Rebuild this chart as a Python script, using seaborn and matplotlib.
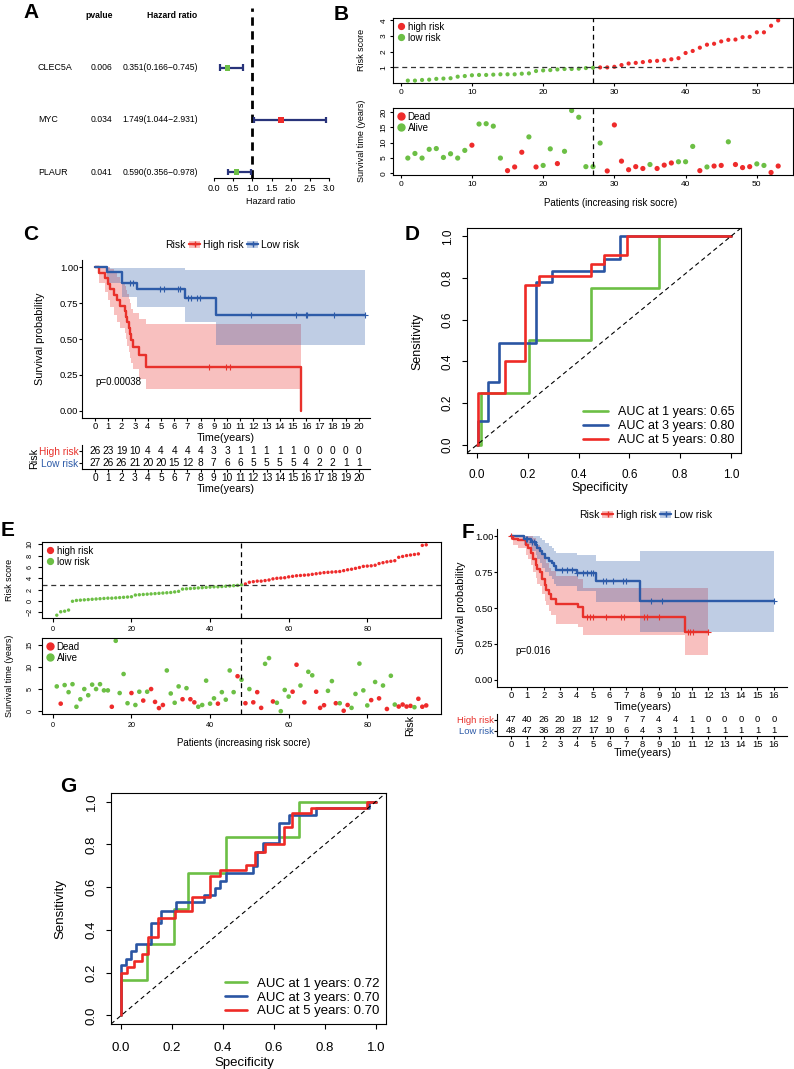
import numpy as np
import matplotlib
matplotlib.use("Agg")
import matplotlib.pyplot as plt
import seaborn as sns
from matplotlib.lines import Line2D
from matplotlib.patches import Patch
from matplotlib.transforms import blended_transform_factory

# ------------------------------------------------------------------ data
# Panel A (forest plot)
forest_genes = ["CLEC5A", "MYC", "PLAUR"]
forest_pvalue = ["0.006", "0.034", "0.041"]
forest_hr = [0.351, 1.749, 0.590]
forest_low = [0.166, 1.044, 0.356]
forest_high = [0.745, 2.931, 0.978]

# Panel B (risk curve, training set)
b_risk = [0.16, 0.16, 0.2, 0.22, 0.27, 0.29, 0.31, 0.41, 0.45, 0.5,
          0.52, 0.52, 0.54, 0.56, 0.56, 0.56, 0.6, 0.62, 0.77, 0.81,
          0.83, 0.87, 0.9, 0.9, 0.92, 0.96, 0.98, 1.0, 1.0, 1.04,
          1.15, 1.25, 1.29, 1.34, 1.4, 1.42, 1.46, 1.52, 1.59, 1.92,
          2.05, 2.26, 2.45, 2.51, 2.66, 2.76, 2.78, 2.93, 2.95, 3.24,
          3.24, 3.66, 4.0]
b_time = [5.0, 6.5, 5.0, 7.85, 8.1, 5.2, 6.4, 5.0, 7.5, 9.2,
          16.1, 16.2, 15.4, 5.0, 0.9, 2.1, 6.9, 11.9, 2.1, 2.6,
          8.0, 3.2, 7.2, 20.5, 18.3, 2.2, 2.2, 9.9, 0.8, 15.8,
          4.0, 1.2, 2.2, 1.6, 2.9, 1.6, 2.7, 3.4, 3.8, 3.8,
          8.8, 0.9, 2.1, 2.4, 2.6, 10.3, 2.9, 1.9, 2.2, 3.1,
          2.6, 0.3, 2.4]
b_dead = [0, 0, 0, 0, 0, 0, 0, 0, 0, 1,
          0, 0, 0, 0, 1, 1, 1, 0, 1, 0,
          0, 1, 0, 0, 0, 0, 0, 0, 1, 1,
          1, 1, 1, 1, 0, 1, 1, 1, 0, 0,
          0, 1, 0, 1, 1, 0, 1, 1, 1, 0,
          0, 1, 1]
b_n_low = 27
b_cutoff = 1.0

# Panel C (KM, training set)
c_high_t = [0, 0.3, 0.75, 0.95, 1.15, 1.45, 1.65, 1.85, 2.25, 2.35, 2.45, 2.55, 2.65, 2.75, 2.85, 3.3, 3.85, 15.65]
c_high_s = [1.0, 0.962, 0.923, 0.885, 0.846, 0.808, 0.769, 0.731, 0.692, 0.654, 0.615, 0.577, 0.538, 0.49, 0.447, 0.39, 0.305, 0.0]
c_high_up = [1.0, 1.0, 1.0, 1.0, 0.99, 0.96, 0.93, 0.9, 0.87, 0.84, 0.81, 0.78, 0.75, 0.71, 0.68, 0.64, 0.605, 0.605]
c_high_lo = [1.0, 0.89, 0.83, 0.77, 0.72, 0.67, 0.62, 0.58, 0.54, 0.5, 0.45, 0.41, 0.37, 0.33, 0.29, 0.225, 0.155, 0.155]
c_high_cens = [8.65, 9.9, 10.2]
c_low_t = [0, 0.93, 2.0, 3.15, 6.8, 9.15, 20.45]
c_low_s = [1.0, 0.963, 0.889, 0.849, 0.785, 0.67, 0.67]
c_low_up = [1.0, 0.995, 0.995, 0.995, 0.977, 0.977, 0.977]
c_low_lo = [1.0, 0.89, 0.79, 0.72, 0.62, 0.46, 0.46]
c_low_cens = [2.65, 2.85, 4.9, 5.2, 6.3, 6.45, 7.06, 7.3, 7.7, 7.95, 11.8, 15.2, 16.0, 16.1, 18.1, 20.45]
c_pval = "p=0.00038"
c_tab_times = list(range(0, 21))
c_tab_high = [26, 23, 19, 10, 4, 4, 4, 4, 4, 3, 3, 1, 1, 1, 1, 1, 0, 0, 0, 0, 0]
c_tab_low = [27, 26, 26, 21, 20, 20, 15, 12, 8, 7, 6, 6, 5, 5, 5, 5, 4, 2, 2, 1, 1]

# Panel D (time ROC, training set)
d_years = [1, 3, 5]
d_auc = [0.65, 0.80, 0.80]
d1_x = [0, 0.017, 0.203, 0.449, 0.715, 1.0]
d1_y = [0, 0.25, 0.5, 0.75, 1.0, 1.0]
d3_x = [0, 0.004, 0.043, 0.085, 0.232, 0.295, 0.499, 0.562, 1.0]
d3_y = [0, 0.115, 0.30, 0.49, 0.78, 0.835, 0.89, 1.0, 1.0]
d5_x = [0, 0.003, 0.109, 0.19, 0.243, 0.449, 0.499, 0.59, 1.0]
d5_y = [0, 0.25, 0.40, 0.765, 0.81, 0.865, 0.91, 1.0, 1.0]

# Panel E (risk curve, validation set)
e_risk = [-2.5, -1.9, -1.8, -1.6, -0.05, 0.1, 0.15, 0.2, 0.25, 0.3,
          0.35, 0.4, 0.45, 0.5, 0.5, 0.55, 0.6, 0.65, 0.7, 0.75,
          1.05, 1.1, 1.15, 1.2, 1.25, 1.3, 1.35, 1.4, 1.45, 1.5,
          1.6, 1.7, 2.1, 2.15, 2.2, 2.25, 2.3, 2.35, 2.4, 2.45,
          2.5, 2.5, 2.55, 2.6, 2.65, 2.7, 2.75, 2.85,
          3.0, 3.3, 3.4, 3.5, 3.5, 3.6, 3.7, 3.9, 4.0, 4.05,
          4.1, 4.25, 4.35, 4.45, 4.5, 4.55, 4.6, 4.7, 4.8, 4.9,
          5.0, 5.05, 5.1, 5.15, 5.2, 5.35, 5.5, 5.6, 5.75, 5.9,
          6.1, 6.15, 6.2, 6.3, 6.6, 6.75, 6.9, 7.0, 7.1, 7.7,
          7.85, 8.0, 8.1, 8.2, 8.3, 9.8, 9.9]
e_time = [5.6, 1.7, 5.9, 4.3, 6.1, 1.0, 2.7, 5.0, 3.6, 6.0,
          5.0, 6.1, 4.7, 4.7, 1.0, 15.9, 4.1, 8.4, 1.8, 4.1,
          1.4, 4.4, 2.4, 4.4, 5.0, 2.1, 0.7, 1.4, 9.2, 4.0,
          1.9, 5.6, 2.7, 5.2, 2.7, 2.0, 1.0, 1.4, 6.9, 1.7,
          2.9, 1.7, 4.3, 2.6, 9.2, 4.3, 7.9, 7.1, 1.8, 5.0,
          2.0, 4.3, 0.75, 10.7, 12.0, 2.2, 1.9, 0.0, 4.8, 3.3,
          4.4, 10.5, 5.8, 2.0, 8.9, 8.1, 4.4, 0.75, 1.35, 4.6,
          6.8, 1.8, 1.8, 0.1, 1.4, 0.75, 3.9, 10.75, 4.7, 1.3,
          2.5, 6.6, 2.9, 5.8, 0.5, 8.0, 1.5, 1.05, 1.5, 1.05,
          1.2, 0.9, 2.8, 1.0, 1.3]
e_dead = [0, 1, 0, 0, 0, 0, 0, 0, 0, 0,
          0, 0, 0, 0, 1, 0, 0, 0, 0, 1,
          0, 0, 1, 0, 1, 1, 1, 1, 0, 0,
          0, 0, 1, 0, 1, 1, 0, 0, 0, 0,
          0, 1, 0, 0, 0, 0, 1, 0, 1, 0,
          1, 1, 1, 0, 0, 1, 0, 0, 0, 0,
          1, 1, 0, 1, 0, 0, 1, 1, 1, 0,
          0, 1, 0, 1, 1, 0, 0, 0, 0, 0,
          1, 0, 1, 0, 1, 0, 0, 1, 1, 1,
          1, 0, 1, 1, 1]
e_n_low = 48
e_cutoff = 2.9

# Panel F (KM, validation set)
f_high_t = [0, 0.15, 0.45, 0.9, 1.05, 1.2, 1.35, 1.5, 1.6, 1.75, 1.9, 2.05, 2.15, 2.3, 2.45, 2.77, 4.1, 4.4, 10.57, 12.0]
f_high_s = [1.0, 0.98, 0.97, 0.94, 0.92, 0.88, 0.84, 0.80, 0.77, 0.75, 0.70, 0.66, 0.625, 0.595, 0.565, 0.525, 0.51, 0.435, 0.33, 0.33]
f_high_up = [1.0, 1.0, 1.0, 1.0, 1.0, 1.0, 0.99, 0.96, 0.94, 0.92, 0.88, 0.84, 0.81, 0.78, 0.76, 0.72, 0.70, 0.64, 0.64, 0.64]
f_high_lo = [1.0, 0.94, 0.92, 0.87, 0.84, 0.80, 0.75, 0.71, 0.67, 0.65, 0.60, 0.55, 0.52, 0.48, 0.45, 0.39, 0.37, 0.31, 0.17, 0.17]
f_high_cens = [0.0, 4.6, 4.8, 5.0, 5.8, 6.7, 6.85, 8.1, 8.25, 9.0, 10.8, 10.9, 11.1, 12.0]
f_low_t = [0, 0.8, 1.2, 1.5, 1.6, 1.75, 1.9, 2.1, 2.3, 2.5, 2.6, 2.75, 4.0, 5.2, 7.87, 16.0]
f_low_s = [1.0, 0.98, 0.96, 0.94, 0.92, 0.90, 0.875, 0.85, 0.83, 0.81, 0.79, 0.767, 0.745, 0.686, 0.547, 0.547]
f_low_up = [1.0, 1.0, 1.0, 1.0, 1.0, 0.99, 0.97, 0.95, 0.93, 0.92, 0.90, 0.88, 0.87, 0.83, 0.894, 0.894]
f_low_lo = [1.0, 0.94, 0.90, 0.87, 0.84, 0.81, 0.78, 0.75, 0.72, 0.70, 0.67, 0.65, 0.62, 0.545, 0.335, 0.335]
f_low_cens = [0.9, 1.0, 1.3, 1.4, 3.1, 3.4, 3.7, 4.0, 4.4, 4.6, 4.9, 5.0, 5.6, 5.8, 6.2, 6.8, 7.0, 8.5, 9.2, 16.0]
f_pval = "p=0.016"
f_tab_times = list(range(0, 17))
f_tab_high = [47, 40, 26, 20, 18, 12, 9, 7, 7, 4, 4, 1, 0, 0, 0, 0, 0]
f_tab_low = [48, 47, 36, 28, 27, 17, 10, 6, 4, 3, 1, 1, 1, 1, 1, 1, 1]

# Panel G (time ROC, validation set)
g_years = [1, 3, 5]
g_auc = [0.72, 0.70, 0.70]
g1_x = [0, 0, 0.102, 0.207, 0.263, 0.413, 0.70, 1.0]
g1_y = [0, 0.167, 0.333, 0.5, 0.667, 0.833, 1.0, 1.0]
g3_x = [0, 0, 0.017, 0.037, 0.059, 0.119, 0.158, 0.216, 0.327, 0.367, 0.39, 0.413, 0.516, 0.533, 0.556, 0.618, 0.659, 0.766, 0.975, 1.0]
g3_y = [0, 0.235, 0.265, 0.30, 0.335, 0.43, 0.49, 0.53, 0.565, 0.595, 0.63, 0.665, 0.70, 0.765, 0.805, 0.90, 0.935, 0.97, 1.0, 1.0]
g5_x = [0, 0, 0.024, 0.05, 0.082, 0.105, 0.144, 0.21, 0.28, 0.35, 0.387, 0.49, 0.527, 0.566, 0.638, 0.67, 0.745, 0.965, 1.0]
g5_y = [0, 0.20, 0.225, 0.255, 0.285, 0.365, 0.455, 0.49, 0.555, 0.65, 0.68, 0.705, 0.765, 0.80, 0.88, 0.945, 0.97, 1.0, 1.0]

# ------------------------------------------------------------------ style
sns.set_style("ticks")
plt.rcParams['font.family'] = ['Liberation Sans', 'DejaVu Sans']
plt.rcParams.update({
    'axes.edgecolor': 'black', 'axes.linewidth': 0.8,
    'xtick.color': 'black', 'ytick.color': 'black', 'text.color': 'black',
    'axes.labelcolor': 'black', 'xtick.direction': 'out', 'ytick.direction': 'out',
    'xtick.major.width': 0.8, 'ytick.major.width': 0.8,
})

PT_RED = "#EE2B2B"
PT_GREEN = "#6CBF45"
KM_RED = "#E8312B"
KM_BLUE = "#2D5BA8"
ROC_COLS = ["#6CBF45", "#2A55A3", "#EE2A26"]
NAVY = "#28337A"

W, H = 794.0, 1069.0
fig = plt.figure(figsize=(W / 100, H / 100), dpi=100)


def rect(l, t, r, b):
    return [l / W, 1 - b / H, (r - l) / W, (b - t) / H]


def ftext(x, y, s, **kw):
    kw.setdefault('ha', 'center')
    kw.setdefault('va', 'center')
    fig.text(x / W, 1 - y / H, s, **kw)


def letter(x, y, s):
    ftext(x, y, s, fontsize=15, fontweight='bold')


# ------------------------------------------------------------------ A
axA = fig.add_axes(rect(214, 8, 329, 178))
nA = len(forest_genes)
rows = np.arange(nA, 0, -1)
axA.set_xlim(0, 3)
axA.set_ylim(0.885, 4.15)
axA.axvline(1, color='black', lw=2, ls=(0, (3, 2)), zorder=1)
axA.hlines(rows, forest_low, forest_high, color=NAVY, lw=1.6, zorder=3)
cap = 0.065
axA.vlines(forest_low, rows - cap, rows + cap, color=NAVY, lw=1.6, zorder=3)
axA.vlines(forest_high, rows - cap, rows + cap, color=NAVY, lw=1.6, zorder=3)
box_pal = {g: (PT_RED if h > 1 else PT_GREEN) for g, h in zip(forest_genes, forest_hr)}
sns.scatterplot(x=forest_hr, y=rows, hue=forest_genes, palette=box_pal, marker='s',
                s=16, linewidth=0, legend=False, ax=axA, zorder=4)
for sp in ['left', 'top', 'right']:
    axA.spines[sp].set_visible(False)
axA.spines['bottom'].set_bounds(0, 3)
axA.set_yticks([])
axA.set_xticks(np.arange(0, 3.01, 0.5))
axA.set_xticklabels([f"{v:.1f}" for v in np.arange(0, 3.01, 0.5)])
axA.tick_params(axis='x', labelsize=6.5, length=2.5, pad=1.5)
axA.set_xlabel("")
axA.set_ylabel("")
trA = blended_transform_factory(fig.transFigure, axA.transData)
axA.text(113 / W, nA + 1, "pvalue", transform=trA, ha='right', va='center', fontsize=6.2, fontweight='bold')
axA.text(197 / W, nA + 1, "Hazard ratio", transform=trA, ha='right', va='center', fontsize=6.2, fontweight='bold')
for i in range(nA):
    axA.text(38 / W, rows[i], forest_genes[i], transform=trA, ha='left', va='center', fontsize=6.4)
    axA.text(112 / W, rows[i], forest_pvalue[i], transform=trA, ha='right', va='center', fontsize=6.2)
    axA.text(198 / W, rows[i], f"{forest_hr[i]:.3f}({forest_low[i]:.3f}\u2212{forest_high[i]:.3f})",
             transform=trA, ha='right', va='center', fontsize=6.2)
ftext(271, 201, "Hazard ratio", fontsize=6.5)
letter(31, 12, "A")


# ------------------------------------------------------------------ risk plots (B, E)
def risk_plot(top_px, bot_px, risk, time, dead, n_low, cutoff, s_top, s_bot, fs_tick, fs_leg,
              xticks, yticks_top, yticks_bot, tick_len, tick_pad):
    n = len(risk)
    idx = np.arange(1, n + 1)
    grp = np.where(idx <= n_low, "low risk", "high risk")
    pad = 0.04 * (n - 1)
    ax1 = fig.add_axes(rect(*top_px))
    sns.scatterplot(x=idx, y=risk, hue=grp, palette={"high risk": PT_RED, "low risk": PT_GREEN},
                    s=s_top, linewidth=0, legend=False, ax=ax1)
    r0, r1 = min(risk), max(risk)
    ax1.set_xlim(1 - pad, n + pad)
    ax1.set_ylim(r0 - 0.04 * (r1 - r0), r1 + 0.04 * (r1 - r0))
    ax1.axvline(n_low, color='black', lw=0.9, ls=(0, (4, 3)))
    ax1.axhline(cutoff, color='#333333', lw=0.9, ls=(0, (4, 3)))
    ax1.set_xticks(xticks)
    ax1.set_yticks(yticks_top)
    h1 = [Line2D([], [], ls='', marker='o', color=PT_RED, markersize=4.2),
          Line2D([], [], ls='', marker='o', color=PT_GREEN, markersize=4.2)]
    ax1.legend(h1, ["high risk", "low risk"], loc='upper left', frameon=False, fontsize=fs_leg,
               handlelength=0.8, handletextpad=0.3, labelspacing=0.1, borderaxespad=0.2, borderpad=0.2)

    ax2 = fig.add_axes(rect(*bot_px))
    st = np.where(np.asarray(dead) == 1, "Dead", "Alive")
    sns.scatterplot(x=idx, y=time, hue=st, palette={"Dead": PT_RED, "Alive": PT_GREEN},
                    s=s_bot, linewidth=0, legend=False, ax=ax2)
    t1 = max(time)
    ax2.set_xlim(1 - pad, n + pad)
    ax2.set_ylim(min(time) - 0.04 * t1, t1 * 1.04)
    ax2.axvline(n_low, color='black', lw=0.9, ls=(0, (4, 3)))
    ax2.set_xticks(xticks)
    ax2.set_yticks(yticks_bot)
    h2 = [Line2D([], [], ls='', marker='o', color=PT_RED, markersize=5),
          Line2D([], [], ls='', marker='o', color=PT_GREEN, markersize=5)]
    ax2.legend(h2, ["Dead", "Alive"], loc='upper left', frameon=False, fontsize=fs_leg,
               handlelength=0.8, handletextpad=0.3, labelspacing=0.1, borderaxespad=0.2, borderpad=0.2)
    for ax in (ax1, ax2):
        ax.set_xlabel("")
        ax.set_ylabel("")
        ax.tick_params(labelsize=fs_tick, length=tick_len, pad=tick_pad)
        ax.tick_params(axis='y', labelrotation=90)
        for lab in ax.get_yticklabels():
            lab.set_va('center')
    return ax1, ax2


risk_plot((393, 18, 793, 83), (393, 108, 793, 175), b_risk, b_time, b_dead, b_n_low, b_cutoff,
          9, 14, 6, 7, [0, 10, 20, 30, 40, 50], [1, 2, 3, 4], [0, 5, 10, 15, 20], 2.5, 1.5)
ftext(362, 50, "Risk score", fontsize=6.5, rotation=90)
ftext(362, 141, "Survival time (years)", fontsize=6.5, rotation=90)
ftext(611, 203, "Patients (increasing risk socre)", fontsize=7)
letter(341, 14, "B")

risk_plot((42, 542, 441, 618), (42, 638, 441, 714), e_risk, e_time, e_dead, e_n_low, e_cutoff,
          6, 11, 5.2, 7, [0, 20, 40, 60, 80], [-2, 0, 2, 4, 6, 8, 10], [0, 5, 10, 15], 3, 3)
ftext(10, 580, "Risk score", fontsize=6.5, rotation=90)
ftext(10, 676, "Survival time (years)", fontsize=6.5, rotation=90)
ftext(244, 743, "Patients (increasing risk socre)", fontsize=7)
letter(8, 531, "E")


# ------------------------------------------------------------------ KM panels (C, F)
def step_at(times, surv, t):
    i = np.searchsorted(times, t, side='right') - 1
    return np.asarray(surv)[i]


def km_plot(km_px, tab_px, xlim, tmax, groups, pval, tab_times, tab_high, tab_low,
            legend_xy, risk_xy, ylab_xy, xlab_xy, tab_risk_xy, tab_xlab_xy, tab_fs):
    ax = fig.add_axes(rect(*km_px))
    for t, s, up, lo, cens, col in groups:
        ax.fill_between(t, lo, up, step='post', color=col, alpha=0.3, linewidth=0)
        sns.lineplot(x=t, y=s, drawstyle='steps-post', estimator=None, sort=False,
                     color=col, lw=1.7, ax=ax)
        cy = [step_at(t, s, c) for c in cens]
        sns.scatterplot(x=cens, y=cy, marker='+', color=col, s=22, linewidth=0.8,
                        legend=False, ax=ax, zorder=5)
    ax.set_xlim(*xlim)
    ax.set_ylim(-0.05, 1.05)
    ax.set_xticks(range(0, tmax + 1))
    ax.set_yticks([0, 0.25, 0.5, 0.75, 1.0])
    ax.set_yticklabels(["0.00", "0.25", "0.50", "0.75", "1.00"])
    ax.spines['top'].set_visible(False)
    ax.spines['right'].set_visible(False)
    ax.tick_params(labelsize=6.8, length=2, pad=0.6, width=0.8)
    ax.set_xlabel("")
    ax.set_ylabel("")
    ax.text(0.05 if tmax > 16 else 0.25, 0.2, pval, ha='left', va='center', fontsize=7)
    ftext(*ylab_xy, "Survival probability", fontsize=7.8, rotation=90)
    ftext(*xlab_xy, "Time(years)", fontsize=7.8)

    handles = [(Patch(facecolor=KM_RED, alpha=0.3, edgecolor='none'),
                Line2D([], [], color=KM_RED, lw=1.7, marker='+', markersize=4)),
               (Patch(facecolor=KM_BLUE, alpha=0.3, edgecolor='none'),
                Line2D([], [], color=KM_BLUE, lw=1.7, marker='+', markersize=4))]
    fig.legend(handles, ["High risk", "Low risk"], loc='center left',
               bbox_to_anchor=(legend_xy[0] / W, 1 - legend_xy[1] / H), ncol=2, frameon=False,
               fontsize=7.5, handlelength=1.1, handletextpad=0.25, columnspacing=0.3,
               borderpad=0, borderaxespad=0)
    ftext(*risk_xy, "Risk", fontsize=7.5)

    tb = fig.add_axes(rect(*tab_px))
    tb.set_xlim(*xlim)
    tb.set_ylim(0, 2)
    for tt, nh, nl in zip(tab_times, tab_high, tab_low):
        tb.text(tt, 1.5, str(nh), ha='center', va='center', fontsize=tab_fs)
        tb.text(tt, 0.5, str(nl), ha='center', va='center', fontsize=tab_fs)
    tb.set_yticks([1.5, 0.5])
    tb.set_yticklabels(["High risk", "Low risk"])
    for lab, c in zip(tb.get_yticklabels(), [KM_RED, KM_BLUE]):
        lab.set_color(c)
    tb.set_xticks(tab_times)
    tb.spines['top'].set_visible(False)
    tb.spines['right'].set_visible(False)
    tb.tick_params(labelsize=tab_fs, length=2, pad=0.6, width=0.8)
    ftext(*tab_risk_xy, "Risk", fontsize=7.8, rotation=90)
    ftext(*tab_xlab_xy, "Time(years)", fontsize=7.8)
    return ax, tb


km_plot((82, 260, 370, 418), (82, 445, 370, 469), (-1.0, 20.85), 20,
        [(c_high_t, c_high_s, c_high_up, c_high_lo, c_high_cens, KM_RED),
         (c_low_t, c_low_s, c_low_up, c_low_lo, c_low_cens, KM_BLUE)],
        c_pval, c_tab_times, c_tab_high, c_tab_low,
        (189, 245), (175, 245), (40, 339), (226, 438), (34, 458), (226, 489), 7.3)
letter(31, 234, "C")

km_plot((497, 529, 787, 687), (497, 714, 787, 736), (-0.85, 16.8), 16,
        [(f_high_t, f_high_s, f_high_up, f_high_lo, f_high_cens, KM_RED),
         (f_low_t, f_low_s, f_low_up, f_low_lo, f_low_cens, KM_BLUE)],
        f_pval, f_tab_times, f_tab_high, f_tab_low,
        (602, 515), (589, 515), (461, 608), (643, 707), (410, 725), (643, 753), 6.8)
letter(468, 532, "F")


# ------------------------------------------------------------------ ROC panels (D, G)
def roc_plot(px, curves, years, aucs, fs_tick, fs_leg, lab_xy, spec_xy, xpad, ypad, leg_kw):
    ax = fig.add_axes(rect(*px))
    handles = []
    for (x, y), c in zip(curves, ROC_COLS):
        sns.lineplot(x=x, y=y, drawstyle='steps-post', estimator=None, sort=False,
                     color=c, lw=1.9, ax=ax)
        handles.append(Line2D([], [], color=c, lw=1.9))
    ax.axline((0, 0), slope=1, color='black', lw=0.8, ls=(0, (4, 3)))
    ax.set_xlim(-0.04, 1.04)
    ax.set_ylim(-0.04, 1.04)
    ticks = np.arange(0, 1.01, 0.2)
    ax.set_xticks(ticks)
    ax.set_yticks(ticks)
    ax.set_xticklabels([f"{v:.1f}" for v in ticks])
    ax.set_yticklabels([f"{v:.1f}" for v in ticks])
    ax.tick_params(labelsize=fs_tick, length=3.5)
    ax.tick_params(axis='x', pad=xpad)
    ax.tick_params(axis='y', pad=ypad, labelrotation=90)
    for lab in ax.get_yticklabels():
        lab.set_va('center')
    ax.set_xlabel("")
    ax.set_ylabel("")
    labels = [f"AUC at {y} years: {a:.2f}" for y, a in zip(years, aucs)]
    ax.legend(handles, labels, frameon=False, fontsize=fs_leg, **leg_kw)
    ftext(*lab_xy, "Sensitivity", fontsize=fs_leg, rotation=90)
    ftext(*spec_xy, "Specificity", fontsize=fs_leg)
    return ax


roc_plot((467, 228, 741, 453), [(d1_x, d1_y), (d3_x, d3_y), (d5_x, d5_y)], d_years, d_auc,
         8.5, 9, (417, 341), (600, 488), 8.0, 5.9,
         dict(loc='lower right', handlelength=2.0, handletextpad=0.8, labelspacing=0.15,
              borderaxespad=0.35, borderpad=0.2))
letter(412, 235, "D")

roc_plot((111, 793, 386, 1024), [(g1_x, g1_y), (g3_x, g3_y), (g5_x, g5_y)], g_years, g_auc,
         9.5, 9.5, (60, 909), (244, 1063), 9.5, 5.9,
         dict(loc='lower right', handlelength=1.7, handletextpad=0.75, labelspacing=0.12,
              borderaxespad=0.3, borderpad=0.2))
letter(68, 787, "G")

fig.savefig("out.png", dpi=100)
